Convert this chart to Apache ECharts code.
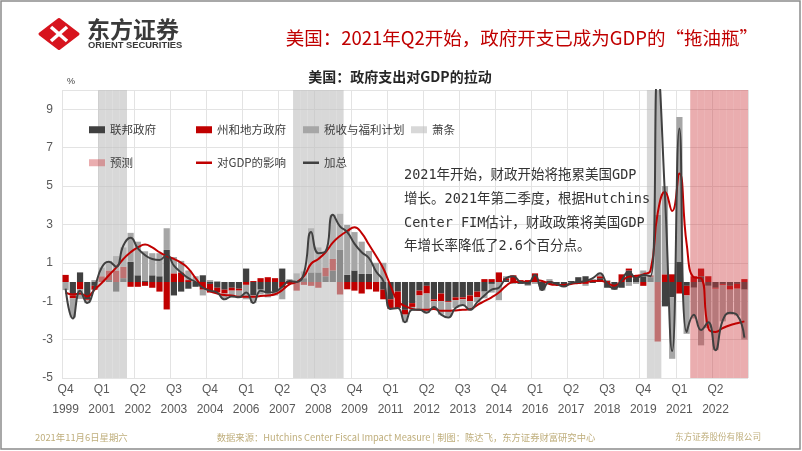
<!DOCTYPE html>
<html>
<head>
<meta charset="utf-8">
<script src="https://cdn.jsdelivr.net/npm/echarts@6/dist/echarts.min.js"></script>
<style>
html,body{margin:0;padding:0;background:#fff;}
#c{width:802px;height:451px;}
</style>
</head>
<body>
<div id="c"></div>
<script>
// Quarterly categories 1999Q4 .. 2023Q2
const categories = [];
(function(){ let y = 1999, q = 4; while (categories.length < 95) { categories.push(y + 'Q' + q); q++; if (q > 4) { q = 1; y++; } } })();

// 联邦政府
const federal = [0.0,-0.7,0.5,-0.9,-0.2,0.0,0.1,-0.5,0.2,1.06,0.35,0.05,0.35,0.3,1.67,-0.7,-0.5,-0.35,-0.25,0.35,
-0.1,-0.3,-0.4,-0.3,-0.35,0.7,-0.7,-0.4,-0.55,-0.5,0.7,0.0,0.05,0.2,0.5,0.5,0.3,0.6,1.67,0.37,
0.6,0.42,0.42,0.0,-0.4,-0.9,-0.5,-1.45,-1.1,-0.45,-0.2,-0.9,-0.6,-1.0,-0.8,-0.8,-0.7,-0.5,-0.5,-0.1,
0.0,0.1,0.0,-0.1,-0.15,0.0,-0.4,-0.1,-0.15,-0.2,0.05,0.25,0.3,-0.05,0.2,-0.3,-0.4,-0.3,0.6,0.2,
0.3,0.25,3.5,-1.27,-0.8,1.04,-0.2,-0.3,0.3,-0.2,-0.3,-0.1,-0.2,-0.1,-0.4];
// 州和地方政府
const stateLocal = [0.37,-0.15,-0.38,-0.05,-0.2,0.3,0.5,0.6,0.6,-0.25,-0.25,-0.2,-0.3,-0.5,-1.43,0.45,0.5,0.1,0.0,-0.4,
-0.45,-0.25,-0.2,-0.15,-0.1,-0.15,0.05,0.2,0.25,0.2,-0.3,-0.1,-0.45,-0.15,-0.2,-0.3,0.45,0.6,-0.65,-0.38,
-0.45,-0.6,-0.38,-0.5,-0.5,-0.5,-0.85,-0.25,-0.2,-0.25,-0.4,-0.1,-0.4,-0.05,-0.15,-0.1,-0.3,-0.3,0.15,0.15,
0.5,0.1,0.35,0.1,0.1,0.45,0.0,0.05,0.0,0.0,0.0,-0.1,-0.1,0.05,0.1,0.05,0.0,0.4,0.1,0.1,
-0.2,0.1,-3.1,0.4,0.4,-0.6,-0.5,0.3,0.4,0.3,-0.05,-0.05,-0.2,-0.25,0.15];
// 税收与福利计划
const taxesBenefits = [-0.42,-1.0,-0.5,-0.15,0.1,0.45,0.5,0.75,1.0,1.5,1.75,1.55,1.15,1.2,1.13,0.85,0.6,0.5,0.3,-0.3,
0.1,0.05,-0.25,-0.3,-0.35,-0.75,-0.4,-0.25,-0.25,-0.2,-0.6,0.15,0.4,0.35,2.3,1.3,0.85,2.3,1.88,2.6,
2.0,1.68,1.2,1.0,1.0,0.0,0.0,-0.4,-0.2,-0.8,-1.0,-0.3,-0.7,-0.75,-0.4,-0.3,-0.45,-0.25,-0.35,-0.45,
-0.95,0.1,-0.1,0.0,-0.05,-0.1,-0.05,0.1,0.0,-0.05,-0.1,0.0,-0.1,0.1,0.1,0.05,0.0,0.0,-0.2,-0.1,
0.3,0.0,9.0,4.6,-3.2,7.56,-2.0,-1.6,-3.3,-2.2,-3.2,-1.9,-1.3,-1.4,-2.6];
// 加总
const total = [-0.35,-1.9,-0.45,-1.1,-0.3,0.75,1.05,0.8,1.9,2.3,1.75,1.4,1.2,1.15,1.4,0.85,0.5,0.2,0.0,-0.3,
-0.45,-0.55,-0.9,-0.75,-0.8,-0.55,-1.1,-0.45,-0.55,-0.5,-0.25,0.05,0.0,0.45,2.6,1.5,1.6,3.5,2.9,2.6,
2.0,1.55,1.25,0.55,0.05,-1.4,-1.35,-2.1,-1.45,-1.45,-1.6,-1.3,-1.7,-1.85,-1.35,-1.2,-1.45,-1.05,-0.7,-0.4,
-0.3,0.2,0.3,0.0,-0.05,0.37,-0.42,0.0,-0.1,-0.24,-0.05,0.0,0.05,0.2,0.45,-0.1,-0.35,0.1,0.54,0.19,
0.37,0.3,11.0,4.5,-3.6,8.0,-2.6,-1.7,-2.5,-2.1,-3.55,-2.0,-1.6,-1.72,-2.9];
// 对GDP的影响
const gdpImpact = [-0.55,-0.65,-0.6,-0.75,-0.4,-0.05,0.35,0.75,1.2,1.55,1.8,1.95,1.8,1.55,1.35,1.2,1.0,0.7,0.2,-0.24,
-0.47,-0.6,-0.68,-0.7,-0.77,-0.77,-0.77,-0.73,-0.7,-0.64,-0.42,-0.12,0.0,0.3,0.95,1.2,1.55,2.05,2.4,2.65,
2.85,2.55,1.95,1.35,0.7,-0.2,-1.0,-1.25,-1.4,-1.45,-1.45,-1.4,-1.5,-1.5,-1.48,-1.45,-1.42,-1.2,-1.0,-0.8,
-0.55,-0.2,0.0,0.0,0.0,0.1,0.05,-0.1,-0.15,-0.16,-0.1,-0.05,0.0,0.05,0.07,-0.05,-0.2,0.05,0.28,0.32,
0.4,0.6,3.6,4.7,3.7,5.65,2.0,0.25,0.2,-2.4,-2.6,-2.4,-2.25,-2.15,-2.05];
// 萧条 (recession quarters) and 预测 (forecast quarters)
const recessionQuarters = ['2001Q1','2001Q2','2001Q3','2001Q4','2007Q4','2008Q1','2008Q2','2008Q3','2008Q4','2009Q1','2009Q2','2020Q1','2020Q2'];
const forecastQuarters = ['2021Q3','2021Q4','2022Q1','2022Q2','2022Q3','2022Q4','2023Q1','2023Q2'];
const yTicks = [-5,-3,-1,1,3,5,7,9];

const recessionData = categories.map(c => recessionQuarters.indexOf(c) >= 0 ? 1 : '-');
const forecastData = categories.map(c => forecastQuarters.indexOf(c) >= 0 ? 1 : '-');

const CJK = '"Noto Sans CJK SC", sans-serif';
const MONO = '"DejaVu Sans Mono", "Noto Sans CJK SC", monospace';
const C_FED = '#404040', C_ST = '#C00000', C_TAX = '#A6A6A6';
const C_REC = 'rgba(190,190,190,0.6)', C_FC = 'rgba(205,60,65,0.42)';

function legendAt(name, left, top, h, icon) {
  return {
    data: [{name: name, icon: icon || 'rect'}],
    left: left, top: top, itemWidth: 16, itemHeight: h, selectedMode: false,
    padding: 0,
    textStyle: {fontSize: 11.5, color: '#404040', fontFamily: CJK}
  };
}

const barCommon = {type: 'bar', stack: 'g', stackStrategy: 'samesign', barCategoryGap: '14%', z: 2};

const option = {
  animation: false,
  backgroundColor: '#fff',
  grid: {left: 62, right: 54, top: 90, bottom: 73, containLabel: false},
  legend: [
    legendAt('联邦政府', 89, 124, 7),
    legendAt('州和地方政府', 196, 124, 7),
    legendAt('税收与福利计划', 303, 124, 7),
    legendAt('萧条', 411, 124, 7),
    legendAt('预测', 89, 157, 7),
    legendAt('对GDP的影响', 196, 157, 2.5),
    legendAt('加总', 303, 157, 2.5)
  ],
  xAxis: [{
    type: 'category', data: categories, boundaryGap: true,
    axisLine: {show: false, onZero: false}, axisTick: {show: false},
    axisLabel: {interval: 4, color: '#595959', fontSize: 12, lineHeight: 20, margin: 2,
      fontFamily: '"Liberation Sans Narrow", "Liberation Sans", sans-serif',
      formatter: v => v.slice(4) + '\n' + v.slice(0, 4)},
    splitLine: {show: true, interval: 4, lineStyle: {color: '#E3E3E3', width: 1}}
  }, {
    type: 'category', data: categories, boundaryGap: true, show: false
  }],
  yAxis: [{
    type: 'value', min: -5, max: 10, interval: 2,
    axisLine: {show: false}, axisTick: {show: false},
    axisLabel: {color: '#595959', fontSize: 12, margin: 9,
      fontFamily: '"Liberation Sans Narrow", "Liberation Sans", sans-serif',
      formatter: v => (yTicks.indexOf(v) >= 0 ? String(v) : '')},
    splitLine: {lineStyle: {color: '#E3E3E3', width: 1}}
  }, {
    type: 'value', min: 0, max: 1, show: false
  }],
  series: [
    Object.assign({}, barCommon, {name: '联邦政府', data: federal, itemStyle: {color: C_FED}}),
    Object.assign({}, barCommon, {name: '州和地方政府', data: stateLocal, itemStyle: {color: C_ST}}),
    Object.assign({}, barCommon, {name: '税收与福利计划', data: taxesBenefits, itemStyle: {color: C_TAX}}),
    {name: '萧条', type: 'bar', stack: 'ov', xAxisIndex: 1, yAxisIndex: 1, barWidth: '100%', data: recessionData,
      itemStyle: {color: C_REC}, z: 3, silent: true},
    {name: '预测', type: 'bar', stack: 'ov', xAxisIndex: 1, yAxisIndex: 1, barWidth: '100%', data: forecastData,
      itemStyle: {color: C_FC}, z: 3, silent: true},
    {name: '对GDP的影响', type: 'line', data: gdpImpact, smooth: true, symbol: 'none',
      lineStyle: {color: C_ST, width: 2}, itemStyle: {color: C_ST}, z: 5},
    {name: '加总', type: 'line', data: total, smooth: true, symbol: 'none',
      lineStyle: {color: C_FED, width: 2}, itemStyle: {color: C_FED}, z: 5}
  ],
  graphic: [
    {type: 'rect', shape: {x: 1, y: 1, width: 799, height: 448}, style: {fill: 'none', stroke: '#8C8C8C', lineWidth: 1.5}, z: 100},
    // logo
    {type: 'polygon', shape: {points: [[40, 34], [59, 19.5], [78, 34], [59, 48.5]]}, style: {fill: '#D7141E', stroke: '#D7141E', lineWidth: 3, lineJoin: 'round'}, z: 100},
    {type: 'line', shape: {x1: 51, y1: 27, x2: 67, y2: 41}, style: {stroke: '#fff', lineWidth: 3.5}, z: 101},
    {type: 'line', shape: {x1: 67, y1: 27, x2: 51, y2: 41}, style: {stroke: '#fff', lineWidth: 3.5}, z: 101},
    {type: 'text', x: 87, y: 29, style: {text: '东方证券', font: 'bold 23px ' + CJK, fill: '#3A3A3A', textVerticalAlign: 'middle'}, z: 100},
    {type: 'text', x: 88, y: 45, style: {text: 'ORIENT SECURITIES', font: 'bold 9.4px "Liberation Sans", sans-serif', fill: '#3A3A3A', textVerticalAlign: 'middle'}, z: 100},
    // titles
    {type: 'text', x: 758, y: 38, style: {text: '美国：2021年Q2开始，政府开支已成为GDP的“拖油瓶”', font: '18.5px ' + CJK, fill: '#C00000', textAlign: 'right', textVerticalAlign: 'middle'}, z: 100},
    {type: 'text', x: 400, y: 77, style: {text: '美国：政府支出对GDP的拉动', font: 'bold 14px ' + CJK, fill: '#262626', textAlign: 'center', textVerticalAlign: 'middle'}, z: 100},
    {type: 'text', x: 67, y: 82, style: {text: '%', font: '9px "Liberation Sans", sans-serif', fill: '#404040', textVerticalAlign: 'middle'}, z: 100},
    // annotation
    {type: 'text', x: 404, y: 175, style: {text: '2021年开始，财政开始将拖累美国GDP', font: '13.5px ' + MONO, fill: '#333', textVerticalAlign: 'middle'}, z: 100},
    {type: 'text', x: 404, y: 199, style: {text: '增长。2021年第二季度，根据Hutchins', font: '13.5px ' + MONO, fill: '#333', textVerticalAlign: 'middle'}, z: 100},
    {type: 'text', x: 404, y: 223, style: {text: 'Center FIM估计，财政政策将美国GDP', font: '13.5px ' + MONO, fill: '#333', textVerticalAlign: 'middle'}, z: 100},
    {type: 'text', x: 404, y: 246, style: {text: '年增长率降低了2.6个百分点。', font: '13.5px ' + MONO, fill: '#333', textVerticalAlign: 'middle'}, z: 100},
    // footer
    {type: 'text', x: 35, y: 437, style: {text: '2021年11月6日星期六', font: '9.4px ' + CJK, fill: '#BFAE7C', textVerticalAlign: 'middle'}, z: 100},
    {type: 'text', x: 406, y: 437, style: {text: '数据来源：Hutchins Center Fiscal Impact Measure | 制图：陈达飞，东方证券财富研究中心', font: '9.3px ' + CJK, fill: '#BFAE7C', textAlign: 'center', textVerticalAlign: 'middle'}, z: 100},
    {type: 'text', x: 761, y: 437, style: {text: '东方证券股份有限公司', font: '8.6px ' + CJK, fill: '#BFAE7C', textAlign: 'right', textVerticalAlign: 'middle'}, z: 100}
  ]
};

const chart = echarts.init(document.getElementById('c'), null, {renderer: 'canvas'});
chart.setOption(option);
</script>
</body>
</html>
